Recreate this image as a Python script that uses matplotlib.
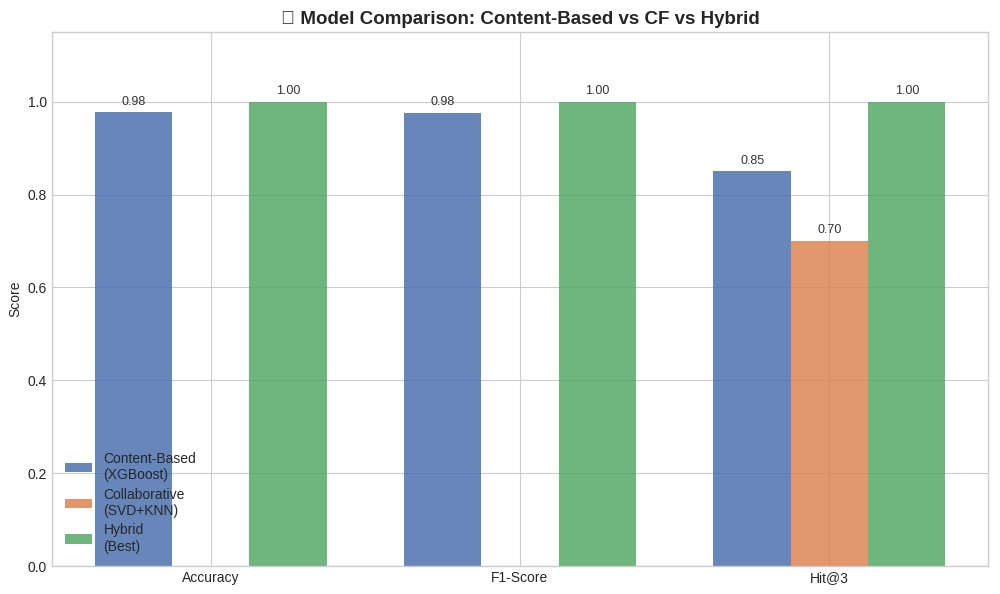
import matplotlib

matplotlib.use("Agg")
import matplotlib.pyplot as plt  # noqa: E402
import numpy as np  # noqa: E402

plt.style.use("seaborn-v0_8-whitegrid")
plt.rcParams["font.family"] = ["Liberation Sans", "DejaVu Sans"]

metrics = ["Accuracy", "F1-Score", "Hit@3"]
content_based = [0.977, 0.976, 0.85]
collaborative = [0.0, 0.0, 0.70]
hybrid = [1.0, 1.0, 1.0]
labels = ["Content-Based\n(XGBoost)", "Collaborative\n(SVD+KNN)", "Hybrid\n(Best)"]
colors = ["#4C72B0", "#DD8452", "#55A868"]

x = np.arange(len(metrics))
width = 0.25

fig, ax = plt.subplots(figsize=(10, 5.94), dpi=100)
for i, (vals, label, color) in enumerate(zip([content_based, collaborative, hybrid], labels, colors)):
    bars = ax.bar(x + (i - 1) * width, vals, width, label=label, color=color, alpha=0.85)
    for bar, v in zip(bars, vals):
        if v > 0:
            ax.text(bar.get_x() + bar.get_width() / 2, v + 0.01, f"{v:.2f}",
                    ha="center", va="bottom", fontsize=9, color="#333333")

ax.set_xticks(x)
ax.set_xticklabels(metrics, fontsize=10)
ax.set_ylabel("Score", fontsize=10)
ax.set_ylim(0, 1.15)
ax.set_title("\U0001F4CA Model Comparison: Content-Based vs CF vs Hybrid",
             fontsize=13.5, fontweight="bold")
ax.legend(loc="lower left", fontsize=10, labelspacing=0.4)
fig.subplots_adjust(left=0.052, right=0.988, top=0.946, bottom=0.047)
fig.savefig("out.png")
